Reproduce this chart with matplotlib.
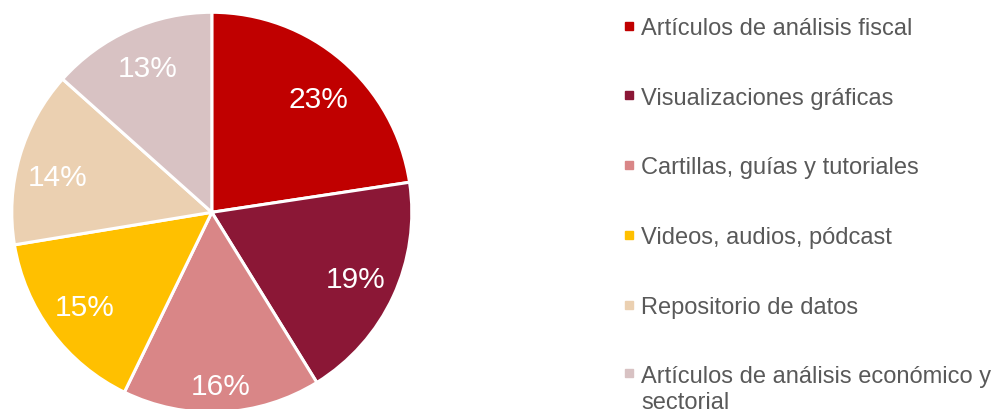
import matplotlib
matplotlib.use("Agg")
import numpy as np
import matplotlib.pyplot as plt
from matplotlib.lines import Line2D
from matplotlib.legend_handler import HandlerLine2D

plt.rcParams['font.family'] = ['Liberation Sans', 'DejaVu Sans']

# Data
categories = [
    "Artículos de análisis fiscal",
    "Visualizaciones gráficas",
    "Cartillas, guías y tutoriales",
    "Videos, audios, pódcast",
    "Repositorio de datos",
    "Artículos de análisis económico y\nsectorial",
]
shares = [22.6, 18.6, 16.0, 15.2, 14.2, 13.4]
colors = ["#C00000", "#8B1736", "#D98687", "#FFC000", "#EBD0B1", "#D8C2C3"]


class FirstLineHandler(HandlerLine2D):
    # puts the marker next to the first line of a two-line label
    def __init__(self, shift, **kw):
        super().__init__(**kw)
        self.shift = shift

    def create_artists(self, *args, **kwargs):
        artists = super().create_artists(*args, **kwargs)
        for a in artists:
            a.set_ydata(np.asarray(a.get_ydata()) + self.shift)
        return artists


W, H = 997, 410
fig = plt.figure(figsize=(W / 100, H / 100), dpi=100)

# pie axes: centre ~ (212, 213) px, radius ~200 px
cx, cy, r = 211.8, 213.3, 200
ax = fig.add_axes([(cx - r) / W, (H - cy - r) / H, 2 * r / W, 2 * r / H])

wedges, texts, autotexts = ax.pie(
    shares,
    colors=colors,
    startangle=90,
    counterclock=False,
    autopct="%.0f%%",
    pctdistance=0.79,
    wedgeprops=dict(edgecolor="white", linewidth=2.2),
    textprops=dict(color="white", fontsize=21.5),
)
# small nudges so the labels sit where the original has them
nudges = {0: (0.02, -0.035), 2: None, 4: (-0.01, -0.045)}
for i, d in nudges.items():
    x, y = autotexts[i].get_position()
    if d is None:
        autotexts[i].set_position((x * 1.1, y * 1.1))
    else:
        autotexts[i].set_position((x + d[0], y + d[1]))

ax.set_xlim(-1, 1)
ax.set_ylim(-1, 1)
ax.set_aspect("equal")
ax.axis("off")

handles = [Line2D([], [], marker="s", linestyle="none", markersize=6,
                  markerfacecolor=c, markeredgecolor=c) for c in colors]
leg = fig.legend(
    handles, categories,
    loc="upper left",
    bbox_to_anchor=(623 / W, 1 - 18 / H),
    frameon=False,
    fontsize=17,
    handlelength=0.5,
    handletextpad=0.26,
    labelspacing=2.02,
    borderpad=0,
    borderaxespad=0,
    handler_map={handles[-1]: FirstLineHandler(shift=12)},
)
for t in leg.get_texts():
    t.set_color("#595959")
    t.set_linespacing(1.2)

fig.savefig("out.png", dpi=100)
